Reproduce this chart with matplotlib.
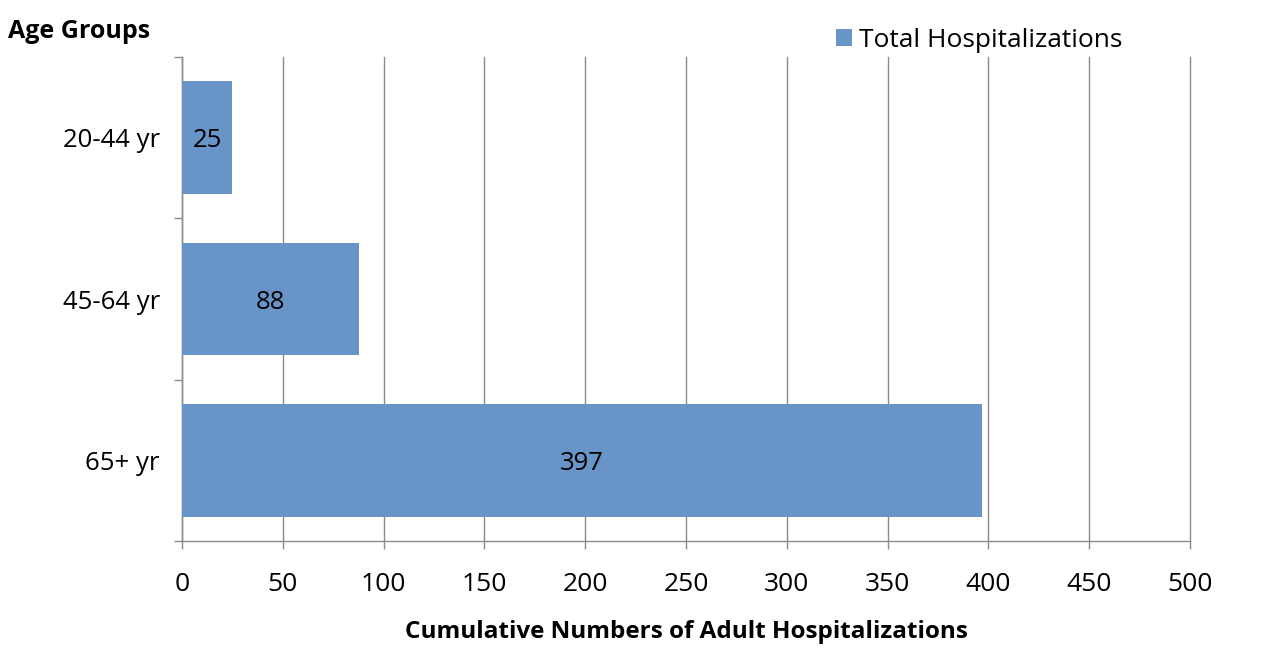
import matplotlib
matplotlib.use("Agg")
import matplotlib.pyplot as plt

# --- DATA ---
age_groups = ["20-44 yr", "45-64 yr", "65+ yr"]
hospitalizations = [25, 88, 397]
x_ticks = [0, 50, 100, 150, 200, 250, 300, 350, 400, 450, 500]
# ------------

BAR_COLOR = "#6894C8"
GRID_COLOR = "#8C8C8C"

plt.rcParams["font.family"] = ["Open Sans", "DejaVu Sans"]

fig = plt.figure(figsize=(12.63, 6.54), dpi=100)
ax = fig.add_axes([0.1441, 0.1728, 0.7981, 0.74])

ypos = list(range(len(age_groups)))
bars = ax.barh(ypos, hospitalizations, height=0.70, color=BAR_COLOR,
               label="Total Hospitalizations", zorder=3)

for b, v in zip(bars, hospitalizations):
    ax.text(b.get_width() / 2, b.get_y() + b.get_height() / 2 + 0.02, str(v),
            ha="center", va="center", fontsize=18.5, color="black", zorder=4)

ax.set_xlim(0, 500)
ax.set_ylim(2.5, -0.5)
ax.set_xticks(x_ticks)
ax.set_xticklabels([str(t) for t in x_ticks], fontsize=19)
ax.set_yticks(ypos)
ax.set_yticklabels(age_groups, fontsize=18.5)
ax.set_yticks([-0.5, 0.5, 1.5, 2.5], minor=True)

ax.tick_params(axis="y", which="major", length=0, pad=16)
ax.tick_params(axis="y", which="minor", length=6, width=1, color=GRID_COLOR, direction="out")
ax.tick_params(axis="x", which="major", length=6, width=1, color=GRID_COLOR, direction="out", pad=16)

ax.grid(axis="x", color=GRID_COLOR, linewidth=1, zorder=0)
for gl in ax.get_xgridlines():
    gl.set_clip_on(False)
for side in ["top", "right"]:
    ax.spines[side].set_visible(False)
for side in ["left", "bottom"]:
    ax.spines[side].set_color(GRID_COLOR)
    ax.spines[side].set_linewidth(1)

ax.set_xlabel("Cumulative Numbers of Adult Hospitalizations", fontsize=17.5,
              fontweight="bold", labelpad=17)
fig.text(0.006, 0.952, "Age Groups", fontsize=18, fontweight="bold", va="center")

ax.legend(loc="upper left", bbox_to_anchor=(0.625, 1.11), frameon=False,
          fontsize=19, handlelength=0.6, handleheight=0.6, handletextpad=0.3)

fig.savefig("out.png", dpi=100)
